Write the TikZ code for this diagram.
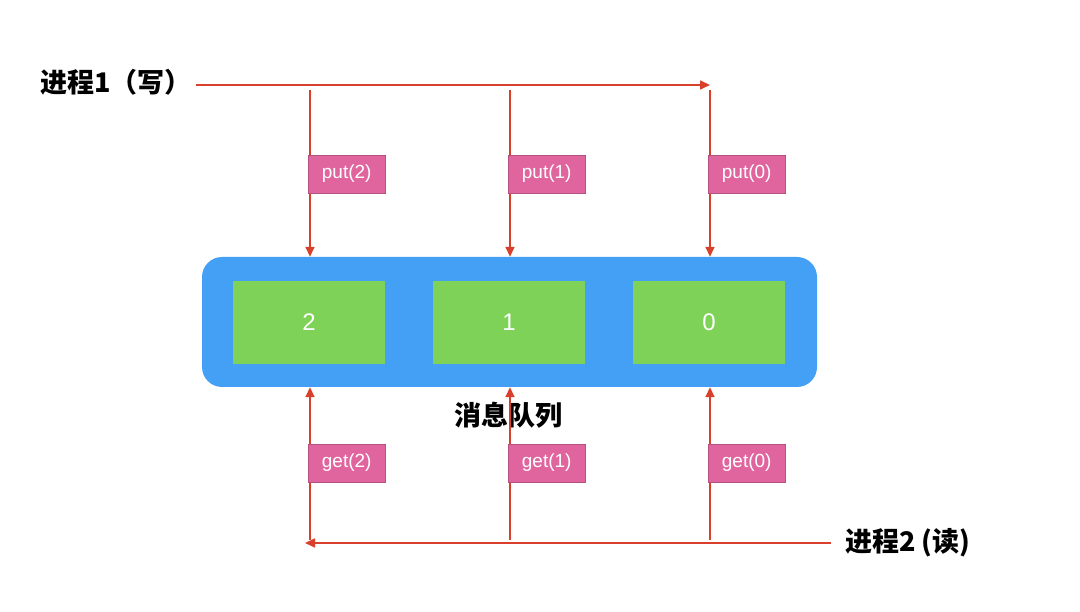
\documentclass[tikz,border=0pt]{standalone}
\usepackage{fontspec}
\setmainfont{Liberation Sans}
\newfontfamily\cjk{Noto Sans CJK SC}
\usetikzlibrary{positioning,arrows.meta}
\definecolor{flowred}{HTML}{D9402B}
\definecolor{qblue}{HTML}{44A0F5}
\definecolor{cellgreen}{HTML}{7ED257}
\definecolor{tagpink}{HTML}{E0659F}
\tikzset{
  flow/.style={draw=flowred,line width=1.6pt,-{Triangle[length=10pt,width=9pt]}},
  cell/.style={fill=cellgreen,minimum width=152pt,minimum height=83pt,text=white,font=\fontsize{24}{24}\selectfont},
  tag/.style={fill=tagpink,draw=tagpink!80!black,line width=0.4pt,text=white,minimum width=77pt,minimum height=38pt,font=\fontsize{19}{19}\selectfont,anchor=west,inner sep=0pt},
  proc/.style={font=\cjk\bfseries\fontsize{27}{27}\selectfont,inner sep=0pt}
}
\begin{document}
\begin{tikzpicture}[x=1pt,y=-1pt]
	\useasboundingbox (0,0) rectangle (1080,612);
	
	% queue and cells
	\node[fill=qblue,rounded corners=20pt,minimum width=615pt,minimum height=130pt] (q) at (509.5,322) {};
	\node[cell] (c2) at (309,322.5) {2};
	\node[cell] (c1) at (509,322.5) {1};
	\node[cell] (c0) at (709,322.5) {0};
	\node[font=\cjk\bfseries\fontsize{27}{27}\selectfont] (qname) at (508,415) {消息队列};
	
	% writer
	\node[proc,anchor=west] (p1) at (40,82) {进程1（写）};
	\coordinate (w0) at (710,85);
	\draw[flow] (p1.east |- w0) ++(4,0) -- (w0);
	\foreach \x/\n in {310/2,510/1,710/0}{
		\coordinate (w\n) at (\x,90);
		\draw[flow] (w\n) -- (w\n |- q.north);
		\node[tag] at (\x-2,174) {put(\n)};
	}
	
	% reader
	\node[proc,anchor=west] (p2) at (845,543) {进程2 (读)};
	\coordinate (r2) at (305,543);
	\draw[flow] (p2.west) ++(-14,0) -- (r2);
	\foreach \x/\n in {310/2,510/1,710/0}{
		\coordinate (b\n) at (\x,540);
		\draw[flow] (b\n) -- (b\n |- q.south);
		\node[tag] at (\x-2,463) {get(\n)};
	}
\end{tikzpicture}
\end{document}
